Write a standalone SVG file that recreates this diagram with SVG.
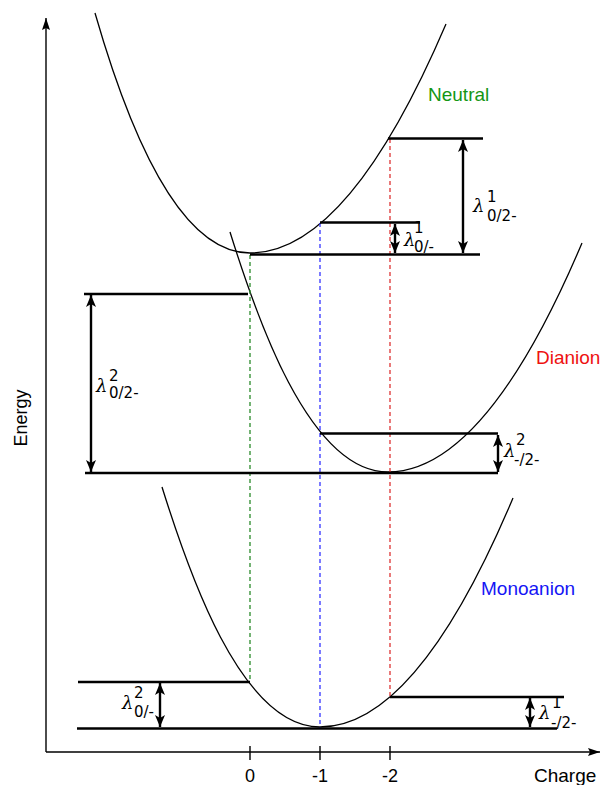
<svg xmlns="http://www.w3.org/2000/svg" width="601" height="785" viewBox="0 0 601 785">
<defs>
<marker id="dimHead" markerUnits="userSpaceOnUse" viewBox="0 0 12 10" refX="12" refY="5" markerWidth="12" markerHeight="10" orient="auto-start-reverse">
<path d="M0,0 L12,5 L0,10 L3,5 z" fill="#000"/>
</marker>
<marker id="axisHead" markerUnits="userSpaceOnUse" viewBox="0 0 12 8" refX="12" refY="4" markerWidth="12" markerHeight="8" orient="auto">
<path d="M0,0 L12,4 L0,8 L2,4 z" fill="#000"/>
</marker>
</defs>
<style>
.curve{fill:none;stroke:#000;stroke-width:1.3}
.level{stroke:#000;stroke-width:2.6;fill:none}
.dim{stroke:#000;stroke-width:2.4;fill:none;marker-start:url(#dimHead);marker-end:url(#dimHead)}
.axis{stroke:#000;stroke-width:1.4;fill:none}
.dash{stroke-width:1.3;stroke-dasharray:4 3;fill:none}
.lbl{font-family:"Liberation Sans",Arial,sans-serif;font-size:19px}
.lam{font-family:"DejaVu Serif","Liberation Serif",serif;font-style:italic;font-size:18px;fill:#000}
.scr{font-family:"DejaVu Sans","Liberation Sans",sans-serif;font-size:15px;fill:#000}
</style>

<g id="axes">
<line class="axis" x1="46" y1="752" x2="46" y2="18" marker-end="url(#axisHead)"/>
<line class="axis" x1="46" y1="752" x2="600" y2="752" marker-end="url(#axisHead)"/>
<line class="axis" x1="250" y1="746" x2="250" y2="760"/>
<line class="axis" x1="320" y1="746" x2="320" y2="760"/>
<line class="axis" x1="390" y1="746" x2="390" y2="760"/>
<text class="lbl" x="250" y="782" text-anchor="middle" style="font-size:18px">0</text>
<text class="lbl" x="320" y="782" text-anchor="middle" style="font-size:18px">-1</text>
<text class="lbl" x="390" y="782" text-anchor="middle" style="font-size:18px">-2</text>
<text class="lbl" x="534" y="782">Charge</text>
<text class="lbl" x="27" y="418" text-anchor="middle" transform="rotate(-90 27 418)" style="font-size:18px">Energy</text>
</g>

<g id="neutral">
<path class="curve" d="M95,13 C118,93 170,253 250,253 Q348,253 446,24"/>
<text class="lbl" x="428" y="101" fill="#149614">Neutral</text>
</g>

<g id="dianion">
<path class="curve" d="M230,232 C255,312 308,472 388,472 Q485,472 582,243"/>
<text class="lbl" x="536" y="364" fill="#ee1111">Dianion</text>
</g>

<g id="monoanion">
<path class="curve" d="M162,487 C187,567 240,727 320,727 Q416.5,727 513,498"/>
<text class="lbl" x="481" y="595" fill="#1515f5">Monoanion</text>
</g>

<g id="connectors">
<line class="dash" x1="250" y1="255" x2="250" y2="682" stroke="#2a8a2a"/>
<line class="dash" x1="320" y1="223" x2="320" y2="728" stroke="#3535ff"/>
<line class="dash" x1="390" y1="139" x2="390" y2="697" stroke="#dd3333"/>

<line class="level" x1="388" y1="138.5" x2="483" y2="138.5"/>
<line class="level" x1="320" y1="222.5" x2="420" y2="222.5"/>
<line class="level" x1="250" y1="254.5" x2="480" y2="254.5"/>
<line class="level" x1="84" y1="294" x2="248" y2="294"/>
<line class="level" x1="320" y1="433.5" x2="498" y2="433.5"/>
<line class="level" x1="85" y1="473" x2="498" y2="473"/>
<line class="level" x1="78" y1="682" x2="250" y2="682"/>
<line class="level" x1="390" y1="697" x2="564" y2="697"/>
<line class="level" x1="77" y1="728.5" x2="557" y2="728.5"/>

<line class="dim" x1="463" y1="140" x2="463" y2="253"/>
<line class="dim" x1="395" y1="224" x2="395" y2="253"/>
<line class="dim" x1="91" y1="295" x2="91" y2="472"/>
<line class="dim" x1="498" y1="435" x2="498" y2="472"/>
<line class="dim" x1="160" y1="683" x2="160" y2="727"/>
<line class="dim" x1="530" y1="698" x2="530" y2="727"/>
</g>

<g id="lambda-0-2-neutral">
<text class="lam" x="473" y="212">λ</text>
<text class="scr" x="487" y="202">1</text>
<text class="scr" x="487" y="221">0/2-</text>
</g>
<g id="lambda-0-1-neutral">
<text class="lam" x="404" y="246">λ</text>
<text class="scr" x="414" y="233">1</text>
<text class="scr" x="414" y="252">0/-</text>
</g>
<g id="lambda-0-2-dianion">
<text class="lam" x="96" y="392">λ</text>
<text class="scr" x="109" y="381">2</text>
<text class="scr" x="109" y="398">0/2-</text>
</g>
<g id="lambda-1-2-dianion">
<text class="lam" x="504" y="457">λ</text>
<text class="scr" x="516" y="445">2</text>
<text class="scr" x="514" y="465">-/2-</text>
</g>
<g id="lambda-0-1-mono">
<text class="lam" x="122" y="709">λ</text>
<text class="scr" x="134" y="698">2</text>
<text class="scr" x="134" y="717">0/-</text>
</g>
<g id="lambda-1-2-mono">
<text class="lam" x="539" y="719">λ</text>
<text class="scr" x="552" y="708">1</text>
<text class="scr" x="551" y="728">-/2-</text>
</g>
</svg>
